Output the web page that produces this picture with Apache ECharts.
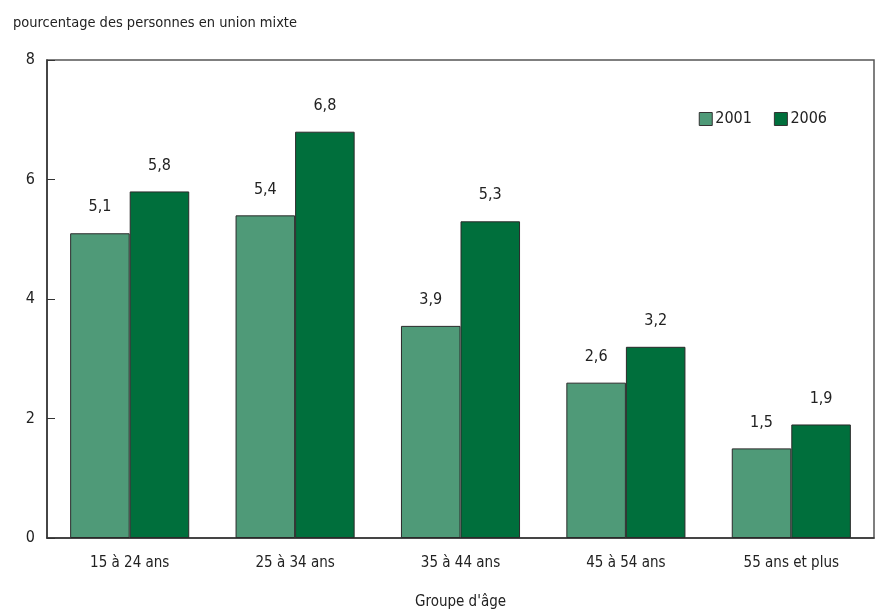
<!DOCTYPE html>
<html><head><meta charset="utf-8">
<script src="https://cdn.jsdelivr.net/npm/echarts@6/dist/echarts.min.js"></script>
<style>html,body{margin:0;padding:0;background:#fff}#c{width:878px;height:614px}</style>
</head><body><div id="c"></div>
<script>
const categories = ["15 à 24 ans","25 à 34 ans","35 à 44 ans","45 à 54 ans","55 ans et plus"];
const values2001 = [5.1, 5.4, 3.55, 2.6, 1.5];
const values2006 = [5.8, 6.8, 5.3, 3.2, 1.9];
const labels2001 = ["5,1","5,4","3,9","2,6","1,5"];
const labels2006 = ["5,8","6,8","5,3","3,2","1,9"];
const yTicks = [0, 2, 4, 6, 8];

const FONT = '"Liberation Sans Narrow","DejaVu Sans Condensed",sans-serif';
const chart = echarts.init(document.getElementById('c'));
chart.setOption({
  animation:false,
  textStyle:{fontFamily:FONT,color:'#222'},
  title:{text:'pourcentage des personnes en union mixte',left:8,top:11,
    textStyle:{fontFamily:FONT,fontSize:14.5,fontWeight:'normal',color:'#222'}},
  legend:{right:46,top:106,itemWidth:13,itemHeight:13,itemGap:22,icon:'rect',
    itemStyle:{borderColor:'#333',borderWidth:1},
    textStyle:{fontFamily:FONT,fontSize:16,color:'#222',padding:[0,0,0,-2]},
    data:['2001','2006']},
  grid:{left:47,right:4,top:60,bottom:76,show:true,borderColor:'#555',borderWidth:1.5,
    containLabel:false,outerBoundsMode:'none'},
  xAxis:{type:'category',data:categories,
    name:"Groupe d'âge",nameLocation:'middle',nameGap:57,
    nameTextStyle:{fontFamily:FONT,fontSize:15,color:'#222'},
    axisLine:{lineStyle:{color:'#333',width:1.5}},axisTick:{show:false},
    axisLabel:{fontFamily:FONT,fontSize:15,color:'#222',margin:18}},
  yAxis:{type:'value',min:yTicks[0],max:yTicks[yTicks.length-1],interval:2,
    axisLine:{show:true,lineStyle:{color:'#333',width:1.5}},
    axisTick:{show:true,inside:true,length:8,lineStyle:{color:'#333'}},
    splitLine:{show:false},
    axisLabel:{fontFamily:FONT,fontSize:16,color:'#222',margin:12}},
  series:[
    {name:'2001',type:'bar',data:values2001,barWidth:'36%',barGap:'0%',
     itemStyle:{color:'#4f9a78',borderColor:'#2a2a2a',borderWidth:1},
     label:{show:true,position:'top',distance:18,fontFamily:FONT,fontSize:16,color:'#222',
       formatter:p=>labels2001[p.dataIndex]}},
    {name:'2006',type:'bar',data:values2006,barWidth:'36%',
     itemStyle:{color:'#006f3c',borderColor:'#2a2a2a',borderWidth:1},
     label:{show:true,position:'top',distance:18,fontFamily:FONT,fontSize:16,color:'#222',
       formatter:p=>labels2006[p.dataIndex]}}
  ]
});
</script></body></html>
